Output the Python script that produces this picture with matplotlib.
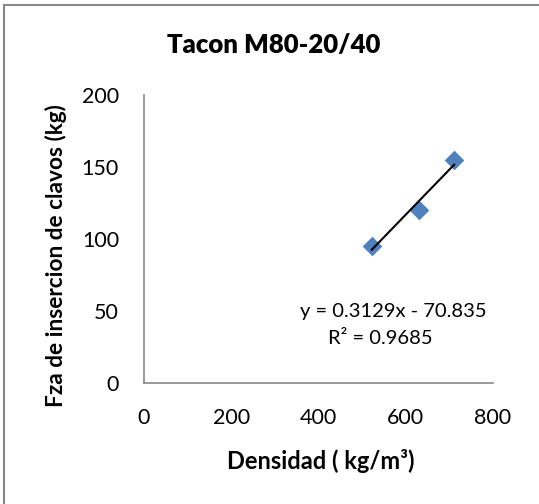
import matplotlib.pyplot as plt
import numpy as np
from matplotlib.patches import Rectangle

# Densidad vs fuerza de insercion de clavos, Tacon M80-20/40
densidad = [522, 630, 711]
fuerza = [95, 120, 155]
pendiente = 0.3129
intercepto = -70.835
r2 = 0.9685

x_ticks = [0, 200, 400, 600, 800]
y_ticks = [0, 50, 100, 150, 200]

plt.rcParams['font.family'] = ['Lato', 'DejaVu Sans']

fig = plt.figure(figsize=(5.39, 5.04), dpi=100)
ax = fig.add_axes([144 / 539, 121 / 504, 349 / 539, 288 / 504])

ax.scatter(densidad, fuerza, marker='D', s=100, color='#4F81BD', zorder=3,
           linewidths=0)

# linea de tendencia sobre el rango de los datos
xt = np.array([min(densidad), max(densidad)])
ax.plot(xt, pendiente * xt + intercepto, color='black', lw=1.5, zorder=4)

ax.set_xlim(0, 800)
ax.set_ylim(0, 200)
ax.set_xticks(x_ticks)
ax.set_yticks(y_ticks)
ax.tick_params(length=0, labelsize=15.5, colors='black')
ax.tick_params(axis='x', pad=18)
ax.tick_params(axis='y', pad=18)

for s in ['top', 'right']:
    ax.spines[s].set_visible(False)
for s in ['left', 'bottom']:
    ax.spines[s].set_color('#888888')
    ax.spines[s].set_linewidth(1.2)

fig.text(274 / 539, 1 - 45 / 504, 'Tacon M80-20/40', ha='center', va='center',
         fontsize=18.5, fontweight='heavy')
fig.text(321 / 539, 1 - 461 / 504, 'Densidad ( kg/m³)', ha='center',
         va='center', fontsize=17, fontweight='bold')
fig.text(56 / 539, 1 - 256 / 504, 'Fza de insercion de clavos (kg)',
         ha='center', va='center', rotation=90, fontsize=16.3,
         fontweight='bold')

fig.text(393 / 539, 1 - 312 / 504, f'y = {pendiente}x - {-intercepto}',
         ha='center', va='center', fontsize=14.5)
fig.text(380 / 539, 1 - 338 / 504, f'R² = {r2}',
         ha='center', va='center', fontsize=14.5)

# marco del grafico
fig.patches.append(Rectangle((4 / 539, -0.1), 1.2, 1 - 5 / 504 + 0.1,
                             transform=fig.transFigure, fill=False,
                             edgecolor='#888888', lw=1.5))

fig.savefig('out.png', dpi=100)
